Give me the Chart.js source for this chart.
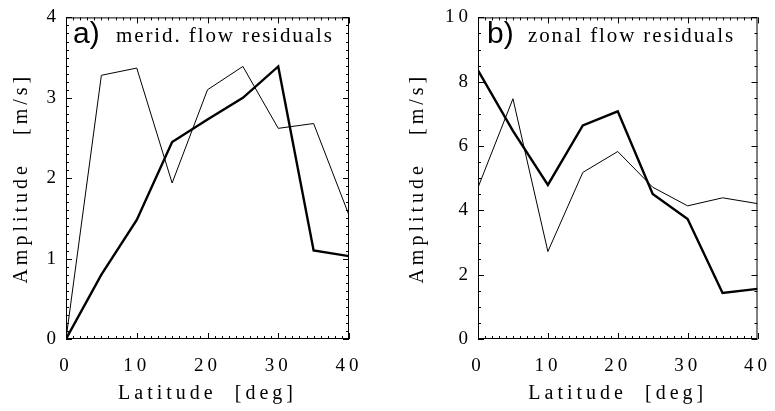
<!DOCTYPE html>
<html>
<head>
<meta charset="utf-8">
<script src="https://cdn.jsdelivr.net/npm/chart.js@4"></script>
<style>
  html, body { margin:0; padding:0; background:#fff; width:775px; height:411px; overflow:hidden; }
  canvas { position:absolute; top:0; }
  #cA { left:0; }
  #cB { left:387px; }
  .tag { position:absolute; font-family:"Liberation Sans", Arial, sans-serif; font-size:30px; line-height:30px; color:#000; }
  .note { position:absolute; font-family:"Liberation Serif", serif; font-size:21px; line-height:21px; letter-spacing:1.9px; color:#000; white-space:pre; }
</style>
</head>
<body>
<canvas id="cA" width="387" height="411"></canvas>
<canvas id="cB" width="400" height="411"></canvas>
<div class="tag" style="left:73px;top:18px;">a)</div>
<div class="note" style="left:116px;top:25px;">merid. flow residuals</div>
<div class="tag" style="left:487px;top:18px;">b)</div>
<div class="note" style="left:528px;top:25px;">zonal flow residuals</div>
<script>
// ── DATOS ──
const latitude   = [0, 5, 10, 15, 20, 25, 30, 35, 40];
const meridThick = [0.00, 0.80, 1.48, 2.45, 2.73, 3.00, 3.39, 1.10, 1.03];
const meridThin  = [0.00, 3.28, 3.37, 1.94, 3.10, 3.39, 2.62, 2.68, 1.54];
const zonalThick = [8.35, 6.47, 4.79, 6.64, 7.08, 4.51, 3.73, 1.43, 1.56];
const zonalThin  = [4.71, 7.47, 2.72, 5.18, 5.83, 4.72, 4.14, 4.39, 4.21];

const xTitle = "Latitude  [deg]";
const yTitle = "Amplitude   [m/s]";
const SERIF = "'Liberation Serif', serif";

// espaciado de letras tipo IDL
const spacing = {
  id:'spacing',
  beforeUpdate(c){ c.ctx.letterSpacing = '4px'; },
  beforeDraw(c){ c.ctx.letterSpacing = '4px'; }
};

// marco con ticks hacia adentro en los 4 lados
const frame = {
  id:'frame',
  afterDraw(chart, args, o){
    const {ctx, chartArea:a, scales:{x,y}} = chart;
    ctx.save();
    ctx.strokeStyle = '#000'; ctx.lineWidth = 1;
    ctx.strokeRect(a.left+.5, a.top+.5, a.right-a.left-1, a.bottom-a.top-1);
    ctx.beginPath();
    const nx = Math.round((x.max-x.min)/o.xMinor);
    for (let i=0;i<=nx;i++){
      const v = x.min + i*o.xMinor;
      const len = (i % Math.round(o.xMajor/o.xMinor)===0) ? 6 : 3;
      const px = Math.round(x.getPixelForValue(v))+.5;
      ctx.moveTo(px, a.bottom); ctx.lineTo(px, a.bottom-len);
      ctx.moveTo(px, a.top);    ctx.lineTo(px, a.top+len);
    }
    const ny = Math.round((y.max-y.min)/o.yMinor);
    for (let i=0;i<=ny;i++){
      const v = y.min + i*o.yMinor;
      const len = (i % Math.round(o.yMajor/o.yMinor)===0) ? 6 : 3;
      const py = Math.round(y.getPixelForValue(v))+.5;
      ctx.moveTo(a.left, py);  ctx.lineTo(a.left+len, py);
      ctx.moveTo(a.right, py); ctx.lineTo(a.right-len, py);
    }
    ctx.stroke();
    ctx.restore();
  }
};

function serie(data, w){
  return { data: latitude.map((x,i)=>({x, y:data[i]})), borderColor:'#000', borderWidth:w,
           pointRadius:0, fill:false, tension:0 };
}

function panel(id, thick, thin, yMax, yStep, yMinor, yWidth, yPad, padRight){
  return new Chart(document.getElementById(id), {
    type:'line',
    data:{ datasets:[ serie(thin, 1), serie(thick, 2.4) ] },
    plugins:[spacing, frame],
    options:{
      responsive:false, animation:false,
      layout:{ padding:{ top:8, right:padRight, left:0, bottom:0 } },
      plugins:{ legend:{display:false}, tooltip:{enabled:false},
        frame:{ xMinor:1, xMajor:10, yMinor, yMajor:yStep } },
      scales:{
        x:{ type:'linear', min:0, max:40,
          grid:{display:false, drawTicks:false}, border:{display:false},
          ticks:{ stepSize:10, padding:16, color:'#000', font:{family:SERIF, size:19}, maxRotation:0 },
          title:{ display:true, text:xTitle, color:'#000', font:{family:SERIF, size:20}, padding:5 },
          afterFit:s=>{ s.height = 72; } },
        y:{ type:'linear', min:0, max:yMax,
          grid:{display:false, drawTicks:false}, border:{display:false},
          ticks:{ stepSize:yStep, padding:6, color:'#000', font:{family:SERIF, size:19} },
          title:{ display:true, text:yTitle, color:'#000', font:{family:SERIF, size:20}, padding:yPad },
          afterFit:s=>{ s.width = yWidth; } }
      }
    }
  });
}

panel('cA', meridThick, meridThin, 4, 1, 0.1, 66, 10, 38);
panel('cB', zonalThick, zonalThin, 10, 2, 0.5, 91, 19, 25);
</script>
</body>
</html>
